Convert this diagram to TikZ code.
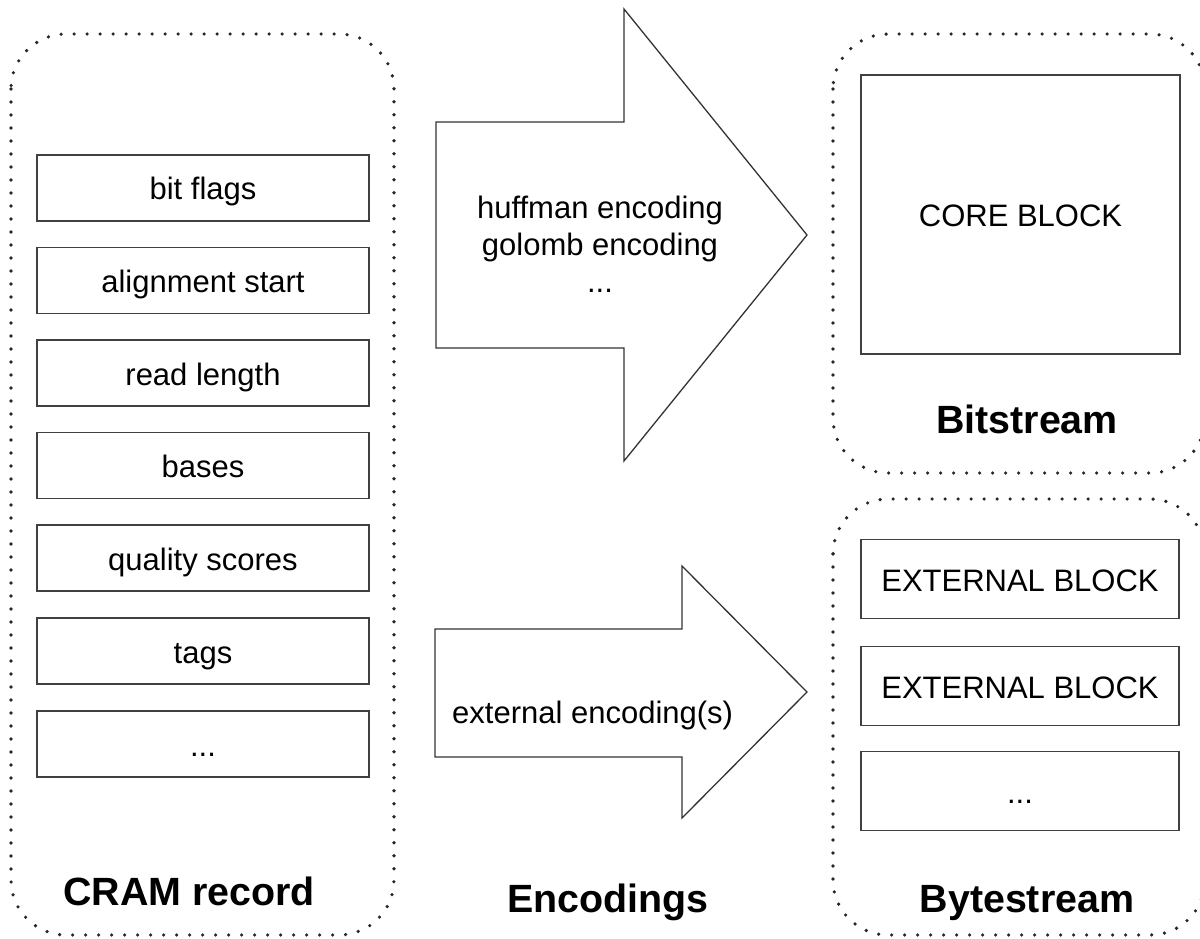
\documentclass[tikz,border=0pt]{standalone}
\usepackage{fontspec}
\setmainfont{Liberation Sans}
\usetikzlibrary{positioning}

\begin{document}
\begin{tikzpicture}[x=1pt,y=-1pt]
\tikzstyle{field}=[rectangle, draw=black!75, line width=1.8pt, minimum width=332pt, minimum height=66pt, inner sep=0pt, text height=24pt, text depth=0pt, font=\fontsize{31}{37}\selectfont]
\tikzstyle{block}=[rectangle, draw=black!75, line width=1.8pt, minimum width=318pt, minimum height=79pt, inner sep=0pt, text height=24pt, text depth=0pt, font=\fontsize{31}{37}\selectfont]
\tikzstyle{group}=[draw=black!85, line width=3.6pt, line cap=round, dash pattern=on 0pt off 13pt, rounded corners=55pt]
\tikzstyle{bigarrow}=[draw=black!80, line width=1.3pt, line join=miter]
\tikzstyle{title}=[anchor=base, inner sep=0pt, font=\fontsize{39.4}{44}\selectfont\bfseries]
\tikzstyle{txt}=[inner sep=0pt, align=center, font=\fontsize{31}{37}\selectfont]
\useasboundingbox (0,0) rectangle (1200,939);

% dotted groups
	\draw[group] (11,34) rectangle (394,935);
	\draw[group] (833,34) rectangle (1205,473);
	\draw[group] (833,499) rectangle (1205,935);

% CRAM record fields
	\node[field] (f_1) at (203,188) {bit flags};
	\node[field] (f_2) at (203,280.5) {alignment start};
	\node[field] (f_3) at (203,373) {read length};
	\node[field] (f_4) at (203,465.5) {bases};
	\node[field] (f_5) at (203,558) {quality scores};
	\node[field] (f_6) at (203,651) {tags};
	\node[field] (f_7) at (203,744) {...};

% encodings
	\draw[bigarrow] (436,122) -- (624,122) -- (624,9) -- (807,235) -- (624,461) -- (624,348) -- (436,348) -- cycle;
	\draw[bigarrow] (435,629) -- (682,629) -- (682,566) -- (807,692) -- (682,818) -- (682,757) -- (435,757) -- cycle;
	\node[txt] (a_1) at (600,244) {huffman encoding\\golomb encoding\\...};
	\node[txt, anchor=base west] (a_2) at (452,723) {external encoding(s)};

% streams
	\node[block, minimum width=319pt, minimum height=279pt] (c_1) at (1020.5,214.5) {CORE BLOCK};
	\node[block] (e_1) at (1020,579) {EXTERNAL BLOCK};
	\node[block] (e_2) at (1020,686) {EXTERNAL BLOCK};
	\node[block] (e_3) at (1020,791) {...};

% titles
	\node[title] (l_1) at (189,905) {CRAM record};
	\node[title] (l_2) at (608,912) {Encodings};
	\node[title] (l_3) at (1027,433) {Bitstream};
	\node[title] (l_4) at (1027,912) {Bytestream};

\end{tikzpicture}
\end{document}
